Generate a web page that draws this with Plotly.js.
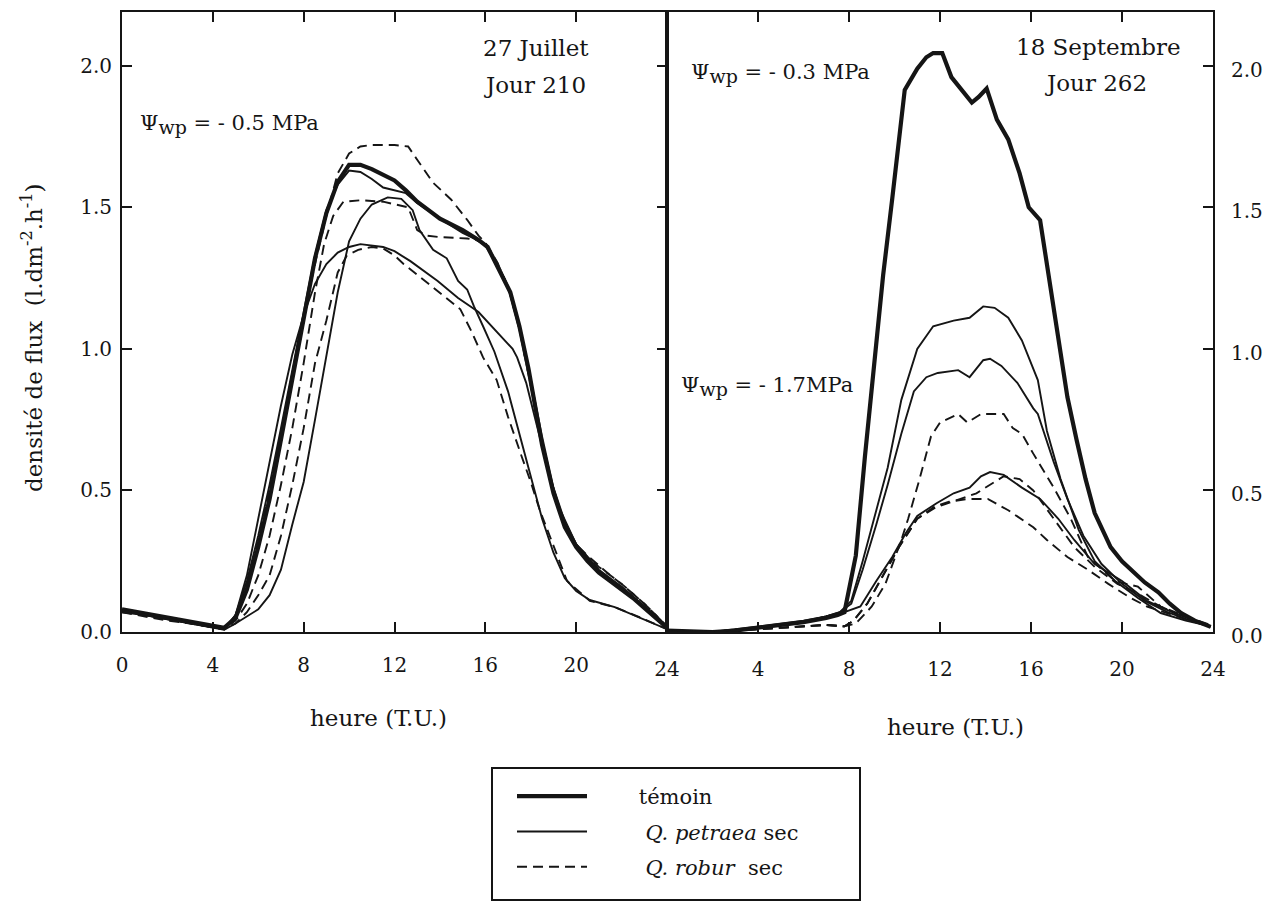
<!DOCTYPE html>
<html><head><meta charset="utf-8">
<script src="https://cdn.plot.ly/plotly-3.0.1.min.js"></script>
<style>html,body{margin:0;padding:0;background:#fff}#chart{width:1288px;height:907px}</style>
</head><body><div id="chart"></div>
<script>
// ---------- tick labels ----------
const xTickVals = [0, 4, 8, 12, 16, 20, 24];
const leftTickText = ["0", "4", "8", "12", "16", "20", ""];
const rightTickText = ["24", "4", "8", "12", "16", "20", "24"];
const yTickVals = [0, 0.5, 1.0, 1.5, 2.0];
const yTickText = ["0.0", "0.5", "1.0", "1.5", "2.0"];
const legendNames = ["       témoin", "        <i>Q. petraea</i> sec", "        <i>Q. robur</i>  sec"];

// ---------- 27 Juillet, jour 210 (heure, densité de flux) ----------
const j210_temoin_h = [0,1,2,3,4,4.5,5,5.5,6,6.5,7,7.5,8,8.5,9,9.5,10,10.5,11,11.5,12,12.5,13,13.5,14,15,15.7,16.1,16.6,17.1,17.5,17.9,18.5,19,19.5,20,20.5,21,21.5,22,22.5,23,23.5,24];
const j210_temoin_v = [0.08,0.065,0.05,0.035,0.02,0.015,0.05,0.15,0.30,0.47,0.68,0.90,1.12,1.32,1.48,1.59,1.65,1.65,1.635,1.615,1.595,1.56,1.52,1.49,1.46,1.42,1.385,1.36,1.28,1.20,1.08,0.93,0.66,0.49,0.37,0.30,0.25,0.21,0.18,0.15,0.12,0.085,0.05,0.015];

const j210_petraea1_h = [0,1,2,3,4,4.5,5,5.5,6,6.5,7,7.5,8,8.5,9,9.5,10,10.5,11,11.5,12,12.5,13,14,15,15.5,16,16.5,17,17.5,18,18.5,19,19.5,20,21,22,23,24];
const j210_petraea1_v = [0.07,0.06,0.045,0.03,0.015,0.01,0.06,0.18,0.34,0.52,0.72,0.93,1.13,1.33,1.49,1.58,1.63,1.625,1.60,1.57,1.56,1.55,1.515,1.46,1.41,1.39,1.365,1.30,1.22,1.08,0.89,0.69,0.51,0.39,0.31,0.22,0.16,0.09,0.02];

const j210_petraea2_h = [0,1,2,3,4,4.5,5,6,6.5,7,7.5,8,8.5,9,9.5,10,10.5,11,11.7,12.3,12.8,13.1,13.7,14.3,14.8,15.2,15.5,15.9,16.4,17,17.5,18,18.5,19,19.5,20,20.6,21.7,22.85,24];
const j210_petraea2_v = [0.075,0.06,0.045,0.03,0.015,0.008,0.03,0.08,0.13,0.22,0.38,0.53,0.75,0.98,1.20,1.38,1.46,1.51,1.535,1.53,1.49,1.42,1.35,1.32,1.24,1.21,1.15,1.08,0.99,0.85,0.70,0.54,0.40,0.28,0.19,0.145,0.113,0.088,0.05,0.01];

const j210_petraea3_h = [0,1,2,3,4,4.5,5,5.5,6,6.5,7,7.5,8,8.5,9,9.5,10,10.5,11.5,12,12.7,13.9,14.8,15.7,16.4,17.2,17.4,17.8,18.3,18.8,19.3,20,21,22,23,24];
const j210_petraea3_v = [0.075,0.06,0.045,0.03,0.015,0.01,0.06,0.20,0.40,0.60,0.80,0.98,1.12,1.23,1.30,1.34,1.36,1.37,1.36,1.345,1.31,1.24,1.18,1.13,1.07,1.00,0.97,0.88,0.72,0.56,0.43,0.31,0.21,0.16,0.09,0.02];

const j210_robur1_h = [0,1,2,3,4,4.5,5,5.5,6,6.5,7,7.5,8,8.5,9,9.5,10,10.5,11,12,12.6,13,13.7,14.5,15.2,15.7,16,16.5,17,17.5,18,18.5,19,19.5,20,20.5,21,21.5,22,22.5,23,23.5,24];
const j210_robur1_v = [0.08,0.065,0.05,0.035,0.02,0.015,0.05,0.16,0.32,0.50,0.70,0.91,1.12,1.30,1.47,1.62,1.69,1.715,1.72,1.72,1.715,1.668,1.587,1.527,1.456,1.40,1.375,1.31,1.22,1.07,0.87,0.67,0.50,0.38,0.31,0.27,0.235,0.20,0.17,0.135,0.10,0.06,0.02];

const j210_robur2_h = [0,1,2,3,4,4.5,5,5.5,6,6.5,7,7.5,8,8.5,8.9,9.3,9.75,10.5,11.5,12,12.6,13,13.4,14,15.2,15.6,16,16.5,17,17.5,18,18.5,19,19.5,20,20.5,21,21.5,22,22.5,23,23.5,24];
const j210_robur2_v = [0.075,0.06,0.045,0.03,0.015,0.01,0.04,0.10,0.20,0.34,0.52,0.72,0.95,1.20,1.37,1.47,1.52,1.525,1.52,1.51,1.50,1.42,1.40,1.395,1.39,1.385,1.37,1.31,1.22,1.07,0.87,0.67,0.50,0.38,0.31,0.265,0.23,0.20,0.17,0.135,0.10,0.06,0.02];

const j210_robur3_h = [0,1,2,3,4,4.5,5,5.5,6,6.5,7,7.5,8,8.5,9,9.5,9.9,10.4,11,11.5,12,12.4,13.5,14.3,14.9,15.4,15.9,16.5,17,17.6,18,18.4,18.9,19.6,20.6,21.7,22.85,24];
const j210_robur3_v = [0.07,0.055,0.04,0.03,0.015,0.01,0.03,0.07,0.13,0.20,0.34,0.52,0.72,0.95,1.10,1.27,1.33,1.35,1.36,1.355,1.33,1.30,1.23,1.18,1.14,1.06,0.97,0.89,0.76,0.62,0.53,0.43,0.325,0.18,0.11,0.088,0.05,0.01];

// ---------- 18 Septembre, jour 262 ----------
const j262_temoin_h = [0,1,2,3,4,5,6,7,7.5,7.8,8.3,8.7,9.2,9.5,9.9,10.45,11,11.4,11.7,12.1,12.5,13,13.4,13.7,14.05,14.5,15,15.5,15.9,16.4,16.8,17.3,17.6,18,18.4,18.8,19.5,20,20.5,21,21.6,22.1,22.6,23.2,23.9];
const j262_temoin_v = [0.005,0.002,0.0,0.005,0.015,0.025,0.035,0.05,0.06,0.07,0.27,0.62,1.03,1.26,1.53,1.915,1.99,2.03,2.045,2.045,1.96,1.91,1.87,1.89,1.92,1.81,1.74,1.62,1.50,1.455,1.25,0.98,0.83,0.68,0.54,0.42,0.30,0.25,0.21,0.175,0.14,0.10,0.067,0.04,0.018];

const j262_petraea1_h = [0,2,4,6,7,7.6,8.1,8.6,9.1,9.7,10.3,11,11.7,12.6,13.3,13.9,14.4,15,15.6,16.1,16.3,16.7,17.3,18.1,18.8,19.7,20.7,21.7,22.8,23.9];
const j262_petraea1_v = [0.005,0.0,0.015,0.035,0.055,0.07,0.11,0.25,0.40,0.58,0.82,1.00,1.08,1.10,1.11,1.15,1.145,1.11,1.03,0.93,0.89,0.71,0.54,0.36,0.25,0.18,0.12,0.067,0.04,0.02];

const j262_petraea2_h = [0,2,4,6,7,7.6,8.1,8.6,9.2,9.7,10.3,10.85,11.4,11.9,12.8,13.3,13.9,14.2,14.7,15.4,16.1,16.3,17,17.6,18.3,19.1,20,21,22,23,23.9];
const j262_petraea2_v = [0.005,0.0,0.015,0.035,0.055,0.07,0.10,0.22,0.38,0.52,0.70,0.85,0.90,0.915,0.925,0.90,0.96,0.965,0.94,0.88,0.79,0.77,0.60,0.47,0.34,0.24,0.17,0.11,0.07,0.04,0.02];

const j262_petraea3_h = [0,2,4,6,7,7.8,8.5,9.2,9.9,10.5,11,11.85,12.6,13.3,13.8,14.2,14.8,15.6,16.4,17.2,17.9,18.8,20,21.1,22.3,23.9];
const j262_petraea3_v = [0.005,0.0,0.02,0.04,0.055,0.07,0.09,0.18,0.265,0.35,0.41,0.455,0.49,0.51,0.55,0.565,0.555,0.51,0.47,0.40,0.325,0.24,0.18,0.11,0.067,0.02];

const j262_robur1_h = [0,2,4,6,7,7.8,8.3,9,9.6,10.3,10.6,11.1,11.6,12,12.8,13.2,13.8,14.8,15.2,15.6,16.1,17,17.75,18.5,19.7,20.7,21.7,22.8,23.9];
const j262_robur1_v = [0.003,0.0,0.01,0.02,0.025,0.02,0.03,0.09,0.17,0.325,0.40,0.54,0.69,0.74,0.77,0.74,0.77,0.77,0.72,0.70,0.63,0.51,0.40,0.265,0.18,0.16,0.09,0.05,0.02];

const j262_robur2_h = [0,2,4,6,7,7.8,8.2,8.8,9.5,10.2,11,11.8,12.9,13.6,14.8,15.5,16.1,17,17.9,18.8,19.8,20.7,21.7,22.8,23.9];
const j262_robur2_v = [0.003,0.0,0.01,0.02,0.025,0.02,0.04,0.10,0.20,0.30,0.40,0.44,0.47,0.49,0.55,0.54,0.50,0.40,0.30,0.23,0.17,0.135,0.09,0.055,0.025];

const j262_robur3_h = [0,2,4,6,7,7.8,8.2,8.8,9.5,10.2,11,11.8,12.4,13.2,14.1,15,16.1,16.7,17.6,18.5,19.4,20.3,21.1,22,23,23.9];
const j262_robur3_v = [0.003,0.0,0.01,0.02,0.025,0.02,0.04,0.10,0.20,0.30,0.40,0.445,0.46,0.47,0.47,0.43,0.37,0.325,0.265,0.22,0.17,0.124,0.09,0.067,0.04,0.02];

// ---------- styles ----------
const INK = "#151515";
const FONT = "DejaVu Serif, Liberation Serif, serif";
const styles = {
  temoin:  {color: INK, width: 4.2, dash: "solid"},
  petraea: {color: INK, width: 1.9, dash: "solid"},
  robur:   {color: INK, width: 1.9, dash: "10px,6px"}
};

function tr(h, v, kind, axis, name, show) {
  return {
    type: "scatter", mode: "lines", x: h, y: v,
    xaxis: axis === 1 ? "x" : "x2", yaxis: axis === 1 ? "y" : "y2",
    line: Object.assign({shape: "linear"}, styles[kind]),
    name: name, legendgroup: kind, showlegend: !!show, hoverinfo: "skip"
  };
}

const data = [
  tr(j210_temoin_h, j210_temoin_v, "temoin", 1, legendNames[0], true),
  tr(j210_petraea1_h, j210_petraea1_v, "petraea", 1, legendNames[1], true),
  tr(j210_robur1_h, j210_robur1_v, "robur", 1, legendNames[2], true),
  tr(j210_petraea2_h, j210_petraea2_v, "petraea", 1, legendNames[1]),
  tr(j210_petraea3_h, j210_petraea3_v, "petraea", 1, legendNames[1]),
  tr(j210_robur2_h, j210_robur2_v, "robur", 1, legendNames[2]),
  tr(j210_robur3_h, j210_robur3_v, "robur", 1, legendNames[2]),
  tr(j262_temoin_h, j262_temoin_v, "temoin", 2, legendNames[0]),
  tr(j262_petraea1_h, j262_petraea1_v, "petraea", 2, legendNames[1]),
  tr(j262_petraea2_h, j262_petraea2_v, "petraea", 2, legendNames[1]),
  tr(j262_petraea3_h, j262_petraea3_v, "petraea", 2, legendNames[1]),
  tr(j262_robur1_h, j262_robur1_v, "robur", 2, legendNames[2]),
  tr(j262_robur2_h, j262_robur2_v, "robur", 2, legendNames[2]),
  tr(j262_robur3_h, j262_robur3_v, "robur", 2, legendNames[2])
];

// pixel -> paper helpers (plot area: x 122..1213, y 12..632)
const PL = 122, PR = 1213, PT = 12, PB = 632;
const px = x => (x - PL) / (PR - PL);
const py = y => (PB - y) / (PB - PT);
const SPLIT = px(667);

const tickFont = {family: FONT, size: 20, color: INK};
const axBase = {
  showgrid: false, zeroline: false, showline: true, linecolor: INK, linewidth: 2,
  ticks: "inside", ticklen: 10, tickwidth: 2, tickcolor: INK, tickfont: tickFont
};

function ann(text, x, y, size, opts) {
  return Object.assign({text: text, xref: "paper", yref: "paper", x: px(x), y: py(y),
    showarrow: false, xanchor: "center", yanchor: "middle",
    font: {family: FONT, size: size, color: INK}}, opts || {});
}
const psi = s => "Ψ<sub><span style=\"font-size:19px\">wp</span></sub> = " + s;

const layout = {
  width: 1288, height: 907,
  paper_bgcolor: "#fff", plot_bgcolor: "#fff",
  margin: {l: PL, r: 1288 - PR, t: PT, b: 907 - PB, pad: 0},
  font: {family: FONT, color: INK},
  xaxis: Object.assign({}, axBase, {domain: [0, SPLIT], range: [0, 24], tickvals: xTickVals,
    ticktext: leftTickText, mirror: "ticks", anchor: "y", ticklabelstandoff: 14}),
  yaxis: Object.assign({}, axBase, {domain: [0, 1], range: [0, 2.19], tickvals: yTickVals,
    ticktext: yTickText, mirror: "ticks", anchor: "x", ticklabelstandoff: 4}),
  xaxis2: Object.assign({}, axBase, {domain: [SPLIT, 1], range: [0, 24], tickvals: xTickVals,
    ticktext: rightTickText, mirror: "ticks", anchor: "y2", ticklabelstandoff: 18}),
  yaxis2: Object.assign({}, axBase, {domain: [0, 1], range: [0, 2.19], tickvals: yTickVals,
    ticktext: yTickText, side: "right", mirror: true, anchor: "x2",
    ticklabelstandoff: 12, ticklabelshift: 4}),
  showlegend: true,
  legend: {x: px(512), y: py(776), xanchor: "left", yanchor: "top",
    bgcolor: "rgba(0,0,0,0)", borderwidth: 0, itemwidth: 70, tracegroupgap: 5,
    font: {family: FONT, size: 21, color: INK}, traceorder: "grouped", itemclick: false},
  shapes: [
    {type: "rect", xref: "paper", yref: "paper", x0: px(492), x1: px(860), y0: py(768), y1: py(900),
     line: {color: INK, width: 2}, fillcolor: "rgba(0,0,0,0)"}
  ],
  annotations: [
    ann("27 Juillet", 536, 48, 23),
    ann("Jour 210", 535, 85, 23),
    ann(psi("- 0.5 MPa"), 138, 124, 21, {xanchor: "left"}),
    ann("18 Septembre", 1098, 47, 23),
    ann("Jour 262", 1096, 83, 23),
    ann(psi("- 0.3 MPa"), 689, 74, 21, {xanchor: "left"}),
    ann(psi("- 1.7MPa"), 679, 386, 21, {xanchor: "left"}),
    ann("heure (T.U.)", 378, 718, 23),
    ann("heure (T.U.)", 955, 727, 23),
    ann("densité de flux  (l.dm<sup>-2</sup>.h<sup>-1</sup>)", 32, 338, 23, {textangle: -90})
  ]
};

Plotly.newPlot("chart", data, layout, {staticPlot: true, displayModeBar: false});
</script>
</body></html>
